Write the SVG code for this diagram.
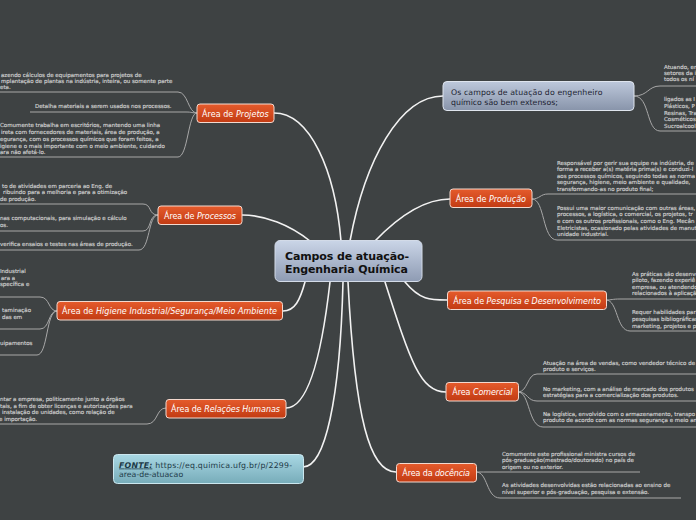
<svg xmlns="http://www.w3.org/2000/svg" width="696" height="520" viewBox="0 0 696 520">
<defs>
<linearGradient id="og" x1="0" y1="0" x2="0" y2="1"><stop offset="0" stop-color="#e55b2c"/><stop offset="1" stop-color="#c23b13"/></linearGradient>
<linearGradient id="cg" x1="0" y1="0" x2="0" y2="1"><stop offset="0" stop-color="#cad5e7"/><stop offset="1" stop-color="#8e9bb3"/></linearGradient>
<linearGradient id="sg" x1="0" y1="0" x2="0" y2="1"><stop offset="0" stop-color="#bdc8db"/><stop offset="1" stop-color="#8894aa"/></linearGradient>
<linearGradient id="tg" x1="0" y1="0" x2="0" y2="1"><stop offset="0" stop-color="#a9d8e4"/><stop offset="1" stop-color="#77acb9"/></linearGradient>
<style>
.leaf{font-family:"DejaVu Sans",Verdana,sans-serif;font-size:5.5px;fill:#d0d0d0;stroke:#c8c8c8;stroke-width:0.18}
.ln{fill:none;stroke:#a8a8a8;stroke-width:1}
.main{fill:none;stroke:#f2f2f2;stroke-width:1.6;stroke-linecap:round}
.bt{font-family:"DejaVu Sans",sans-serif;font-size:8px;fill:#ffffff}
.it{font-style:italic}
.bn{fill:url(#og);stroke:#f3d9cf;stroke-width:1}
</style>
</defs>
<rect x="0" y="0" width="696" height="520" fill="#3e4243"/>

<g id="connectors">
<path class="main" d="M310 241 C290 225,265 215,242 215"/>
<path class="main" d="M341 241 C335 170,310 113,274 113"/>
<path class="main" d="M350 241 C365 160,400 96,443 96"/>
<path class="main" d="M375 241 C400 215,425 199,450 199"/>
<path class="main" d="M305 282 C300 300,295 311,283 311"/>
<path class="main" d="M405 282 C420 300,430 300,447 300"/>
<path class="main" d="M330 282 C320 370,305 408,286 408"/>
<path class="main" d="M343 282 C340 400,325 467,303 467"/>
<path class="main" d="M348 282 C355 420,370 472,396 472"/>
<path class="main" d="M385 282 C410 360,420 392,446 392"/>

<path class="ln" d="M197 113 C188 113,188 92,178 92 H0"/>
<path class="ln" d="M197 113 C192 113,192 112,186 112 H30"/>
<path class="ln" d="M197 113 C188 113,188 157,178 157 H0"/>
<path class="ln" d="M158 215 C148 215,152 204,143 204 H0"/>
<path class="ln" d="M158 215 C148 215,152 231,143 231 H0"/>
<path class="ln" d="M158 215 C148 215,150 250,139 250 H0"/>
<path class="ln" d="M57 311 C48 311,50 297,40 297 H0"/>
<path class="ln" d="M57 311 C48 311,50 329,40 329 H0"/>
<path class="ln" d="M57 311 C46 311,48 355,37 355 H0"/>
<path class="ln" d="M166 408 C156 408,158 424,147 424 H0"/>
<path class="ln" d="M634 96 C648 96,648 86,660 86 H696"/>
<path class="ln" d="M634 96 C650 96,646 131,660 131 H696"/>
<path class="ln" d="M532 199 C540 199,540 194,548 194 H696"/>
<path class="ln" d="M532 199 C545 199,542 240,557 240 H696"/>
<path class="ln" d="M606 300 C612 300,612 299,620 299 H696"/>
<path class="ln" d="M606 300 C618 300,616 331,630 331 H696"/>
<path class="ln" d="M518 392 C528 392,527 374,537 374 H696"/>
<path class="ln" d="M518 392 C528 392,527 401,537 401 H696"/>
<path class="ln" d="M518 392 C530 392,528 427,543 427 H696"/>
<path class="ln" d="M476 472 C480 472,482 472,486 472 H640"/>
<path class="ln" d="M476 472 C488 472,486 498,500 498 H681"/>
</g>

<g id="central">
<rect x="275" y="240.5" width="147" height="41" rx="5" fill="url(#cg)" stroke="#d3dbe8" stroke-width="1"/>
<text x="285" y="260" font-family="'DejaVu Sans',sans-serif" font-size="11" font-weight="bold" fill="#111" textLength="124">Campos de atuação-</text>
<text x="285" y="272.5" font-family="'DejaVu Sans',sans-serif" font-size="11" font-weight="bold" fill="#111" textLength="123">Engenharia Química</text>
</g>

<g id="projetos">
<rect class="bn" x="197" y="104" width="77" height="18.5" rx="3"/>
<text class="bt" x="202" y="116.5" textLength="66.7">Área de <tspan class="it">Projetos</tspan></text>
<text class="leaf" x="1" y="76.5">azendo cálculos de equipamentos para projetos de</text>
<text class="leaf" x="1" y="82.5">mplantação de plantas na indústria, inteira, ou somente parte</text>
<text class="leaf" x="0" y="88.5">eta.</text>
<text class="leaf" x="35" y="107.5">Detalha materiais a serem usados nos processos.</text>
<text class="leaf" x="0" y="127">Comumente trabalha em escritórios, mantendo uma linha</text>
<text class="leaf" x="1" y="134">ireta com fornecedores de materiais, área de produção, a</text>
<text class="leaf" x="0" y="141">egurança, com os processos químicos que foram feitos, a</text>
<text class="leaf" x="0" y="147.7">igiene e o mais importante com o meio ambiente, cuidando</text>
<text class="leaf" x="0" y="154.3">ara não afetá-lo.</text>
</g>

<g id="processos">
<rect class="bn" x="158" y="206" width="84" height="18.5" rx="3"/>
<text class="bt" x="164" y="218.5" textLength="72">Área de <tspan class="it">Processos</tspan></text>
<text class="leaf" x="2" y="187.5">to de atividades em parceria ao Eng. de</text>
<text class="leaf" x="3" y="194">ribuindo para a melhoria e para a otimização</text>
<text class="leaf" x="0" y="201">de produção.</text>
<text class="leaf" x="0" y="220">nas computacionais, para simulação e cálculo</text>
<text class="leaf" x="0" y="227">os.</text>
<text class="leaf" x="0" y="246">verifica ensaios e testes nas áreas de produção.</text>
</g>

<g id="higiene">
<rect class="bn" x="57" y="301.5" width="225.5" height="18.5" rx="3"/>
<text class="bt" x="62" y="314" textLength="215">Área de <tspan class="it">Higiene Industrial/Segurança/Meio Ambiente</tspan></text>
<text class="leaf" x="0" y="272.5">Industrial</text>
<text class="leaf" x="1" y="279.5">ara a</text>
<text class="leaf" x="0" y="286">specífica e</text>
<text class="leaf" x="2" y="312">taminação</text>
<text class="leaf" x="2" y="318.5">das em</text>
<text class="leaf" x="0" y="345">uipamentos</text>
</g>

<g id="relacoes">
<rect class="bn" x="166" y="399.5" width="120" height="18.5" rx="3"/>
<text class="bt" x="171" y="412" textLength="109">Área de <tspan class="it">Relações Humanas</tspan></text>
<text class="leaf" x="0" y="401">ntar a empresa, politicamente junto a órgãos</text>
<text class="leaf" x="0" y="407.5">tais, a fim de obter licenças e autorizações para</text>
<text class="leaf" x="2" y="414">instalação de unidades, como relação de</text>
<text class="leaf" x="-1" y="421">e importação.</text>
</g>

<g id="fonte">
<rect x="113.5" y="454.5" width="190" height="29" rx="4" fill="url(#tg)" stroke="#cbe7ef" stroke-width="1"/>
<text x="119" y="467.5" font-family="'DejaVu Sans',sans-serif" font-size="7.8" fill="#1d3a47" textLength="173"><tspan font-weight="bold" font-style="italic" text-decoration="underline">FONTE:</tspan> https://eq.quimica.ufg.br/p/2299-</text>
<text x="119" y="477" font-family="'DejaVu Sans',sans-serif" font-size="7.8" fill="#1d3a47">area-de-atuacao</text>
</g>

<g id="campos">
<rect x="443" y="81.5" width="191" height="29" rx="4" fill="url(#sg)" stroke="#dfe5ee" stroke-width="1"/>
<text x="451" y="94.5" font-family="'DejaVu Sans',sans-serif" font-size="7.8" fill="#1c2230" textLength="151.5">Os campos de atuação do engenheiro</text>
<text x="451" y="104.5" font-family="'DejaVu Sans',sans-serif" font-size="7.8" fill="#1c2230">químico são bem extensos;</text>
<text class="leaf" x="664" y="69">Atuando, em</text>
<text class="leaf" x="664" y="75">setores da i</text>
<text class="leaf" x="664" y="81">todos os ní</text>
<text class="leaf" x="664" y="101">ligados as I</text>
<text class="leaf" x="664" y="108">Plásticos, P</text>
<text class="leaf" x="664" y="114.5">Resinas, Tra</text>
<text class="leaf" x="664" y="121">Cosméticos</text>
<text class="leaf" x="664" y="127.5">Sucroalcool</text>
</g>

<g id="producao">
<rect class="bn" x="450" y="189" width="82" height="18.5" rx="3"/>
<text class="bt" x="455.7" y="201.5" textLength="70.3">Área de <tspan class="it">Produção</tspan></text>
<text class="leaf" x="557" y="164.5">Responsável por gerir sua equipe na indústria, de</text>
<text class="leaf" x="557" y="171">forma a receber a(s) matéria prima(s) e conduzi-l</text>
<text class="leaf" x="557" y="177.5">aos processos químicos, seguindo todas as norma</text>
<text class="leaf" x="557" y="184">segurança, higiene, meio ambiente e qualidade,</text>
<text class="leaf" x="557" y="190.5">transformando-as no produto final;</text>
<text class="leaf" x="557" y="209.5">Possui uma maior comunicação com outras áreas,</text>
<text class="leaf" x="557" y="216">processos, a logística, o comercial, os projetos, tr</text>
<text class="leaf" x="557" y="223">e com os outros profissionais, como o Eng. Mecân</text>
<text class="leaf" x="557" y="229.5">Eletricistas, ocasionado pelas atividades de manut</text>
<text class="leaf" x="557" y="236">unidade industrial.</text>
</g>

<g id="pesquisa">
<rect class="bn" x="447.5" y="291" width="159" height="18.5" rx="3"/>
<text class="bt" x="453.3" y="303.5" textLength="147.7">Área de <tspan class="it">Pesquisa e Desenvolvimento</tspan></text>
<text class="leaf" x="632" y="276">As práticas são desenvo</text>
<text class="leaf" x="632" y="282">piloto, fazendo experiê</text>
<text class="leaf" x="632" y="288.5">empresa, ou atendendo</text>
<text class="leaf" x="632" y="295">relacionados à aplicaçã</text>
<text class="leaf" x="632" y="314">Requer habilidades para</text>
<text class="leaf" x="632" y="321">pesquisas bibliográficas</text>
<text class="leaf" x="632" y="328">marketing, projetos e p</text>
</g>

<g id="comercial">
<rect class="bn" x="446" y="382.5" width="72.5" height="18.5" rx="3"/>
<text class="bt" x="452.3" y="395" textLength="60.3">Área <tspan class="it">Comercial</tspan></text>
<text class="leaf" x="543" y="365">Atuação na área de vendas, como vendedor técnico de</text>
<text class="leaf" x="543" y="371">produto e serviços.</text>
<text class="leaf" x="543" y="390.5">No marketing, com a análise de mercado dos produtos</text>
<text class="leaf" x="543" y="397">estratégias para a comercialização dos produtos.</text>
<text class="leaf" x="543" y="416">Na logística, envolvido com o armazenamento, transpo</text>
<text class="leaf" x="543" y="422">produto de acordo com as normas segurança e meio am</text>
</g>

<g id="docencia">
<rect class="bn" x="396.5" y="463.5" width="80" height="18.5" rx="3"/>
<text class="bt" x="402.3" y="476" textLength="67.7">Área da <tspan class="it">docência</tspan></text>
<text class="leaf" x="502" y="456">Comumente este profissional ministra cursos de</text>
<text class="leaf" x="502" y="462">pós-graduação(mestrado/doutorado) no país de</text>
<text class="leaf" x="502" y="469">origem ou no exterior.</text>
<text class="leaf" x="502" y="487">As atividades desenvolvidas estão relacionadas ao ensino de</text>
<text class="leaf" x="502" y="494">nível superior e pós-graduação, pesquisa e extensão.</text>
</g>
</svg>
